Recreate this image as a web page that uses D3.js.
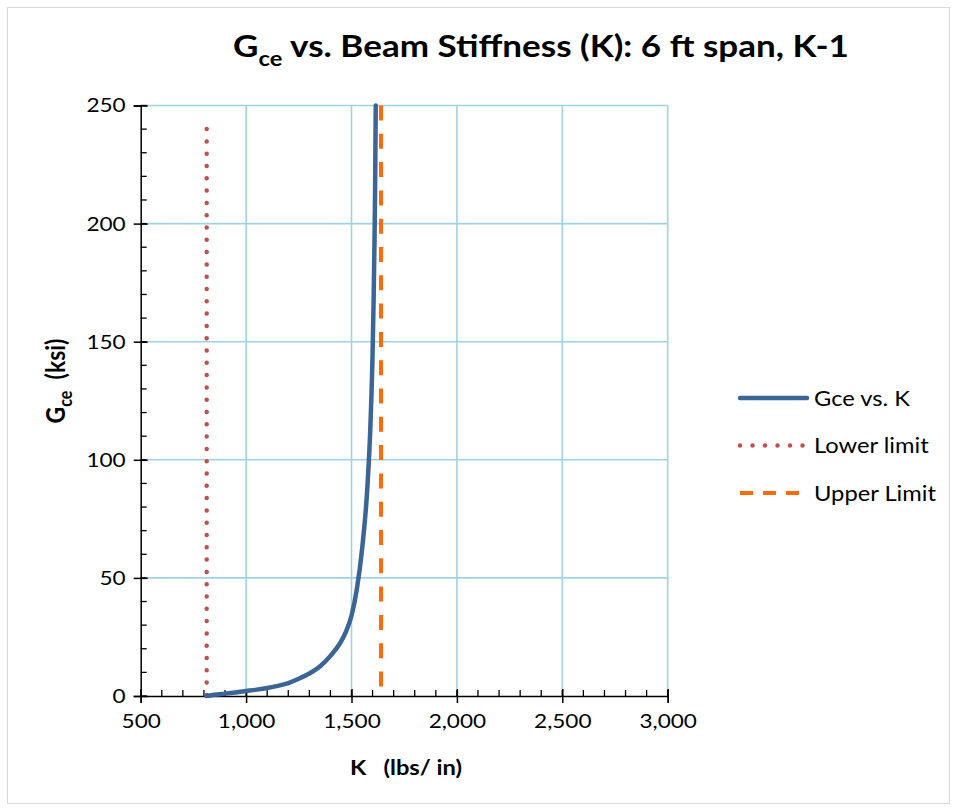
<!DOCTYPE html>
<html>
<head>
<meta charset="utf-8">
<script src="https://cdn.jsdelivr.net/npm/d3@7"></script>
<style>
  html, body { margin: 0; padding: 0; background: #fff; }
  svg { display: block; font-family: Lato, "Open Sans", sans-serif; }
</style>
</head>
<body>
<svg id="chart" width="954" height="808"></svg>
<script>
// Stiffness K (lbs/in) and effective shear modulus Gce (ksi)
const kValues   = [813, 850, 900, 950, 1000, 1050, 1100, 1150, 1200, 1250, 1300, 1350, 1400, 1450, 1475, 1500, 1525, 1550, 1575, 1590, 1600, 1605, 1609, 1612, 1615];
const gceValues = [0, 0.5, 1.0, 1.5, 2.1, 2.7, 3.4, 4.3, 5.5, 7.3, 9.5, 12.5, 17, 23, 27.5, 34, 45, 62, 88, 115, 145, 168, 192, 215, 250];

// Limit lines: [K, G] end points
const lowerLimitK = [813, 813];
const lowerLimitG = [0, 240];
const upperLimitK = [1640, 1640];
const upperLimitG = [0, 250];

const xTicks = [500, 1000, 1500, 2000, 2500, 3000];
const yTicks = [0, 50, 100, 150, 200, 250];
const legendLabels = ["Gce vs. K", "Lower limit", "Upper Limit"];

const svg = d3.select("#chart");
const W = 954, H = 808;
const SX = 1.13; // horizontal widening of the Lato glyphs

// outer frame
svg.append("rect").attr("x", 7.5).attr("y", 7.5).attr("width", W - 12).attr("height", H - 12)
  .attr("fill", "#fff").attr("stroke", "#d9d9d9").attr("stroke-width", 1);

const x = d3.scaleLinear().domain([500, 3000]).range([140.7, 667.7]);
const y = d3.scaleLinear().domain([0, 250]).range([696, 105.5]);

const gridColor = "#9fd3e3";

// grid lines
svg.append("g").selectAll("line").data(xTicks.slice(1)).join("line")
  .attr("x1", d => x(d)).attr("x2", d => x(d)).attr("y1", y(0)).attr("y2", y(250))
  .attr("stroke", gridColor).attr("stroke-width", 1.6);
svg.append("g").selectAll("line").data(yTicks.slice(1)).join("line")
  .attr("x1", x(500)).attr("x2", x(3000)).attr("y1", d => y(d)).attr("y2", d => y(d))
  .attr("stroke", gridColor).attr("stroke-width", 1.6);

// minor ticks (inside)
const xMinor = d3.range(500, 3001, 100);
const yMinor = d3.range(0, 251, 10);
svg.append("g").selectAll("line").data(xMinor).join("line")
  .attr("x1", d => x(d)).attr("x2", d => x(d)).attr("y1", y(0)).attr("y2", y(0) - 6)
  .attr("stroke", "#000").attr("stroke-width", 1.3);
svg.append("g").selectAll("line").data(yMinor).join("line")
  .attr("x1", x(500)).attr("x2", x(500) + 6).attr("y1", d => y(d)).attr("y2", d => y(d))
  .attr("stroke", "#000").attr("stroke-width", 1.3);

// axes with crossing major ticks
const xAxis = svg.append("g").attr("transform", `translate(0,${y(0)})`)
  .call(d3.axisBottom(x).tickValues(xTicks).tickFormat(d3.format(",")).tickSize(7).tickPadding(11));
const yAxis = svg.append("g").attr("transform", `translate(${x(500)},0)`)
  .call(d3.axisLeft(y).tickValues(yTicks).tickSize(7).tickPadding(12));
[xAxis, yAxis].forEach(a => {
  a.select(".domain").attr("stroke", "#000").attr("stroke-width", 1.5);
  a.selectAll(".tick line").attr("stroke", "#000").attr("stroke-width", 1.5);
  a.selectAll(".tick text").attr("fill", "#000").attr("font-size", 20)
    .attr("font-family", "Lato, 'Open Sans', sans-serif")
    .attr("transform", `scale(${SX},1)`);
});
xAxis.selectAll(".tick line").attr("y1", -7);
yAxis.selectAll(".tick line").attr("x1", 7);
yAxis.selectAll(".tick text").attr("x", -15 / SX);

// series
const line = d3.line().x(d => x(d[0])).y(d => y(d[1]));
const smooth = d3.line().x(d => x(d[0])).y(d => y(d[1])).curve(d3.curveMonotoneX);
const lower = lowerLimitK.map((k, i) => [k, lowerLimitG[i]]);
const upper = upperLimitK.map((k, i) => [k, upperLimitG[i]]);
const gce = kValues.map((k, i) => [k, gceValues[i]]);

const lowerStyle = { stroke: "#c0504d", width: 4.5, dash: "0 12.3", cap: "round" };
const upperStyle = { stroke: "#ff6a0a", width: 4, dash: "15 13.3", cap: "butt" };
const gceStyle = { stroke: "#3a6595", width: 4.5, dash: null, cap: "round" };

function drawPath(data, s, gen) {
  svg.append("path").datum(data).attr("d", gen).attr("fill", "none")
    .attr("stroke", s.stroke).attr("stroke-width", s.width)
    .attr("stroke-dasharray", s.dash).attr("stroke-linecap", s.cap)
    .attr("stroke-linejoin", "round");
}
drawPath([...lower].reverse(), lowerStyle, line);
drawPath([...upper].reverse(), upperStyle, line);
drawPath(gce, gceStyle, smooth);

// title
const title = svg.append("text").attr("transform", `translate(541,57) scale(${SX},1)`)
  .attr("text-anchor", "middle")
  .attr("font-size", 31).attr("font-weight", "bold").attr("fill", "#000");
title.append("tspan").text("G");
title.append("tspan").attr("font-size", 21).attr("dy", 9).text("ce");
title.append("tspan").attr("dy", -9).text(" vs. Beam Stiffness (K): 6 ft span, K-1");

// axis titles
svg.append("text").attr("transform", `translate(406,775) scale(${SX},1)`)
  .attr("text-anchor", "middle")
  .attr("font-size", 21).attr("font-weight", "bold").attr("xml:space", "preserve")
  .text("K   (lbs/ in)");
const yt = svg.append("text").attr("transform", `translate(65,381) rotate(-90) scale(1,${SX})`)
  .attr("text-anchor", "middle").attr("font-size", 23).attr("font-weight", "bold")
  .attr("xml:space", "preserve");
yt.append("tspan").text("G");
yt.append("tspan").attr("font-size", 16).attr("dy", 6).text("ce");
yt.append("tspan").attr("dy", -6).text("  (ksi)");

// legend
const legendStyles = [gceStyle, lowerStyle, upperStyle];
const lg = svg.append("g");
legendLabels.forEach((lab, i) => {
  const ly = 398 + i * 47.5;
  lg.append("line").attr("x1", 740).attr("x2", 807).attr("y1", ly).attr("y2", ly)
    .attr("stroke", legendStyles[i].stroke).attr("stroke-width", legendStyles[i].width)
    .attr("stroke-dasharray", i === 1 ? "0 12.5" : (i === 2 ? "13 10" : null))
    .attr("stroke-linecap", legendStyles[i].cap);
  lg.append("text").attr("transform", `translate(814,${ly + 7.5}) scale(${SX},1)`)
    .attr("font-size", 21).attr("fill", "#000").text(lab);
});
</script>
</body>
</html>
